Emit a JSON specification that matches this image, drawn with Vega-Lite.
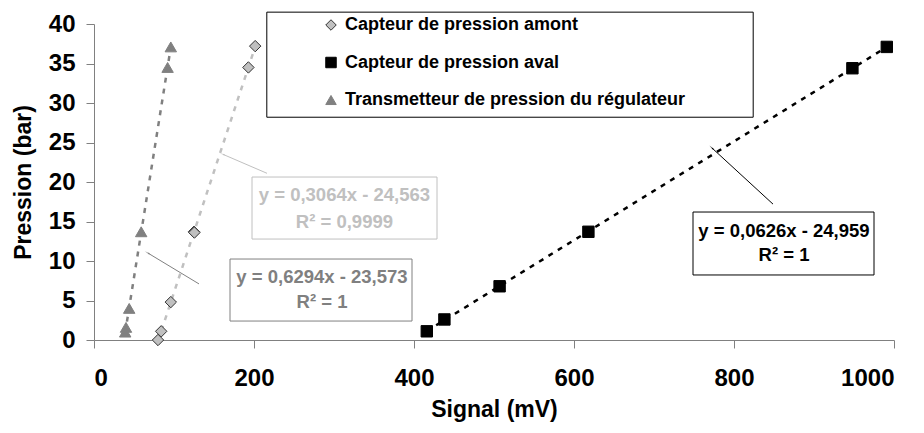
{
  "$schema": "https://vega.github.io/schema/vega-lite/v6.json",
  "width": 800,
  "height": 316,
  "autosize": {"type": "none"},
  "padding": {"left": 94, "top": 24, "right": 30, "bottom": 93},
  "background": "white",
  "config": {
    "view": {"stroke": null},
    "font": "Liberation Sans",
    "axis": {
      "labelFont": "Liberation Sans", "labelFontSize": 24, "labelFontWeight": "bold", "labelColor": "#000000",
      "titleFont": "Liberation Sans", "titleFontSize": 23, "titleFontWeight": "bold", "titleColor": "#000000",
      "domainColor": "#808080", "tickColor": "#808080", "grid": false, "tickSize": 8
    },
    "axisX": {"labelPadding": 18, "titlePadding": 8},
    "axisY": {"labelPadding": 11, "titlePadding": 13}
  },
  "datasets": {
    "points": [
      {"series": "Capteur de pression amont", "x": 80, "y": 0},
      {"series": "Capteur de pression amont", "x": 84, "y": 1.1},
      {"series": "Capteur de pression amont", "x": 96, "y": 4.8},
      {"series": "Capteur de pression amont", "x": 125, "y": 13.7},
      {"series": "Capteur de pression amont", "x": 125.5, "y": 13.6},
      {"series": "Capteur de pression amont", "x": 193, "y": 34.5},
      {"series": "Capteur de pression amont", "x": 201.5, "y": 37.2},
      {"series": "Capteur de pression aval", "x": 416, "y": 1.1},
      {"series": "Capteur de pression aval", "x": 438, "y": 2.6},
      {"series": "Capteur de pression aval", "x": 507, "y": 6.8},
      {"series": "Capteur de pression aval", "x": 618, "y": 13.7},
      {"series": "Capteur de pression aval", "x": 948, "y": 34.4},
      {"series": "Capteur de pression aval", "x": 991, "y": 37.1},
      {"series": "Transmetteur de pression du régulateur", "x": 39, "y": 1.0},
      {"series": "Transmetteur de pression du régulateur", "x": 40, "y": 1.6},
      {"series": "Transmetteur de pression du régulateur", "x": 44, "y": 4.0},
      {"series": "Transmetteur de pression du régulateur", "x": 59, "y": 13.7},
      {"series": "Transmetteur de pression du régulateur", "x": 92, "y": 34.5},
      {"series": "Transmetteur de pression du régulateur", "x": 96, "y": 37.1}
    ],
    "legendbox": [{"x": 216, "x2": 824, "y": 41.5, "y2": 28.2}],
    "boxes": [
      {"series": "Capteur de pression amont", "x": 197.5, "x2": 428.75, "y": 20.63, "y2": 12.78},
      {"series": "Transmetteur de pression du régulateur", "x": 170, "x2": 397.5, "y": 10.25, "y2": 2.4},
      {"series": "Capteur de pression aval", "x": 748.75, "x2": 975, "y": 16.2, "y2": 8.23}
    ],
    "labels": [
      {"series": "Capteur de pression amont", "x": 313, "y": 18.35, "label": "y = 0,3064x - 24,563"},
      {"series": "Capteur de pression amont", "x": 313, "y": 14.9, "label": "R² = 0,9999"},
      {"series": "Transmetteur de pression du régulateur", "x": 285, "y": 7.97, "label": "y = 0,6294x - 23,573"},
      {"series": "Transmetteur de pression du régulateur", "x": 285, "y": 4.8, "label": "R² = 1"},
      {"series": "Capteur de pression aval", "x": 862.5, "y": 13.8, "label": "y = 0,0626x - 24,959"},
      {"series": "Capteur de pression aval", "x": 862.5, "y": 10.76, "label": "R² = 1"}
    ],
    "arrows": [
      {"series": "Capteur de pression amont", "x": 161.25, "y": 23.5, "x2": 216.25, "y2": 21.1},
      {"series": "Transmetteur de pression du régulateur", "x": 67.5, "y": 11.0, "x2": 131.25, "y2": 7.1},
      {"series": "Capteur de pression aval", "x": 772.5, "y": 24.3, "x2": 848.75, "y2": 17.2}
    ]
  },
  "encoding": {
    "x": {"field": "x", "type": "quantitative", "title": "Signal (mV)",
      "scale": {"domain": [0, 1000], "nice": false},
      "axis": {"values": [0, 200, 400, 600, 800, 1000], "format": "d"}},
    "y": {"field": "y", "type": "quantitative", "title": "Pression (bar)",
      "scale": {"domain": [0, 40], "nice": false},
      "axis": {"values": [0, 5, 10, 15, 20, 25, 30, 35, 40], "format": "d"}}
  },
  "layer": [
    {
      "data": {"name": "legendbox"},
      "mark": {"type": "rect", "filled": false, "stroke": "#000000", "strokeWidth": 1},
      "encoding": {"x2": {"field": "x2"}, "y2": {"field": "y2"}}
    },
    {
      "data": {"name": "boxes"},
      "mark": {"type": "rect", "filled": false, "strokeWidth": 1},
      "encoding": {
        "x2": {"field": "x2"}, "y2": {"field": "y2"},
        "color": {"field": "series", "type": "nominal", "legend": null,
          "scale": {"range": ["#c0c0c0", "#000000", "#808080"]}}
      }
    },
    {
      "data": {"name": "arrows"},
      "mark": {"type": "rule", "strokeWidth": 1},
      "encoding": {
        "x2": {"field": "x2"}, "y2": {"field": "y2"},
        "color": {"field": "series", "type": "nominal", "legend": null}
      }
    },
    {
      "data": {"name": "arrows"},
      "transform": [{"filter": "datum.series === 'Capteur de pression amont'"}],
      "mark": {"type": "point", "shape": "wedge", "filled": true, "size": 40, "angle": 293},
      "encoding": {"color": {"field": "series", "type": "nominal", "legend": null}}
    },
    {
      "data": {"name": "arrows"},
      "transform": [{"filter": "datum.series === 'Transmetteur de pression du régulateur'"}],
      "mark": {"type": "point", "shape": "wedge", "filled": true, "size": 40, "angle": 301},
      "encoding": {"color": {"field": "series", "type": "nominal", "legend": null}}
    },
    {
      "data": {"name": "arrows"},
      "transform": [{"filter": "datum.series === 'Capteur de pression aval'"}],
      "mark": {"type": "point", "shape": "wedge", "filled": true, "size": 40, "angle": 313},
      "encoding": {"color": {"field": "series", "type": "nominal", "legend": null}}
    },
    {
      "data": {"name": "labels"},
      "mark": {"type": "text", "font": "Liberation Sans", "fontSize": 18.5, "fontWeight": "bold", "align": "center", "baseline": "middle"},
      "encoding": {
        "text": {"field": "label"},
        "color": {"field": "series", "type": "nominal", "legend": null}
      }
    },
    {
      "data": {"name": "points"},
      "transform": [{"regression": "y", "on": "x", "groupby": ["series"]}],
      "mark": {"type": "line", "strokeWidth": 2.5, "strokeDash": [5, 6]},
      "encoding": {"color": {"field": "series", "type": "nominal", "legend": null}}
    },
    {
      "data": {"name": "points"},
      "mark": {"type": "point", "filled": true, "size": 130, "strokeWidth": 1, "opacity": 1},
      "encoding": {
        "fill": {"field": "series", "type": "nominal",
          "scale": {"domain": ["Capteur de pression amont", "Capteur de pression aval", "Transmetteur de pression du régulateur"], "range": ["#c0c0c0", "#000000", "#808080"]},
          "legend": {"orient": "none", "legendX": 228, "legendY": -8, "title": null, "padding": 0, "symbolSize": 110, "symbolStrokeWidth": 1, "labelFont": "Liberation Sans", "labelFontSize": 18, "labelFontWeight": "bold", "labelColor": "#000000", "labelOffset": 5, "rowPadding": 19.5, "labelLimit": 500}},
        "stroke": {"field": "series", "type": "nominal",
          "scale": {"domain": ["Capteur de pression amont", "Capteur de pression aval", "Transmetteur de pression du régulateur"], "range": ["#333333", "#000000", "#808080"]},
          "legend": {"orient": "none", "legendX": 228, "legendY": -8, "title": null, "padding": 0, "symbolSize": 110, "symbolStrokeWidth": 1, "labelFont": "Liberation Sans", "labelFontSize": 18, "labelFontWeight": "bold", "labelColor": "#000000", "labelOffset": 5, "rowPadding": 19.5, "labelLimit": 500}},
        "shape": {"field": "series", "type": "nominal",
          "scale": {"domain": ["Capteur de pression amont", "Capteur de pression aval", "Transmetteur de pression du régulateur"], "range": ["diamond", "square", "triangle-up"]},
          "legend": {"orient": "none", "legendX": 228, "legendY": -8, "title": null, "padding": 0, "symbolSize": 110, "symbolStrokeWidth": 1, "labelFont": "Liberation Sans", "labelFontSize": 18, "labelFontWeight": "bold", "labelColor": "#000000", "labelOffset": 5, "rowPadding": 19.5, "labelLimit": 500}}
      }
    }
  ]
}
